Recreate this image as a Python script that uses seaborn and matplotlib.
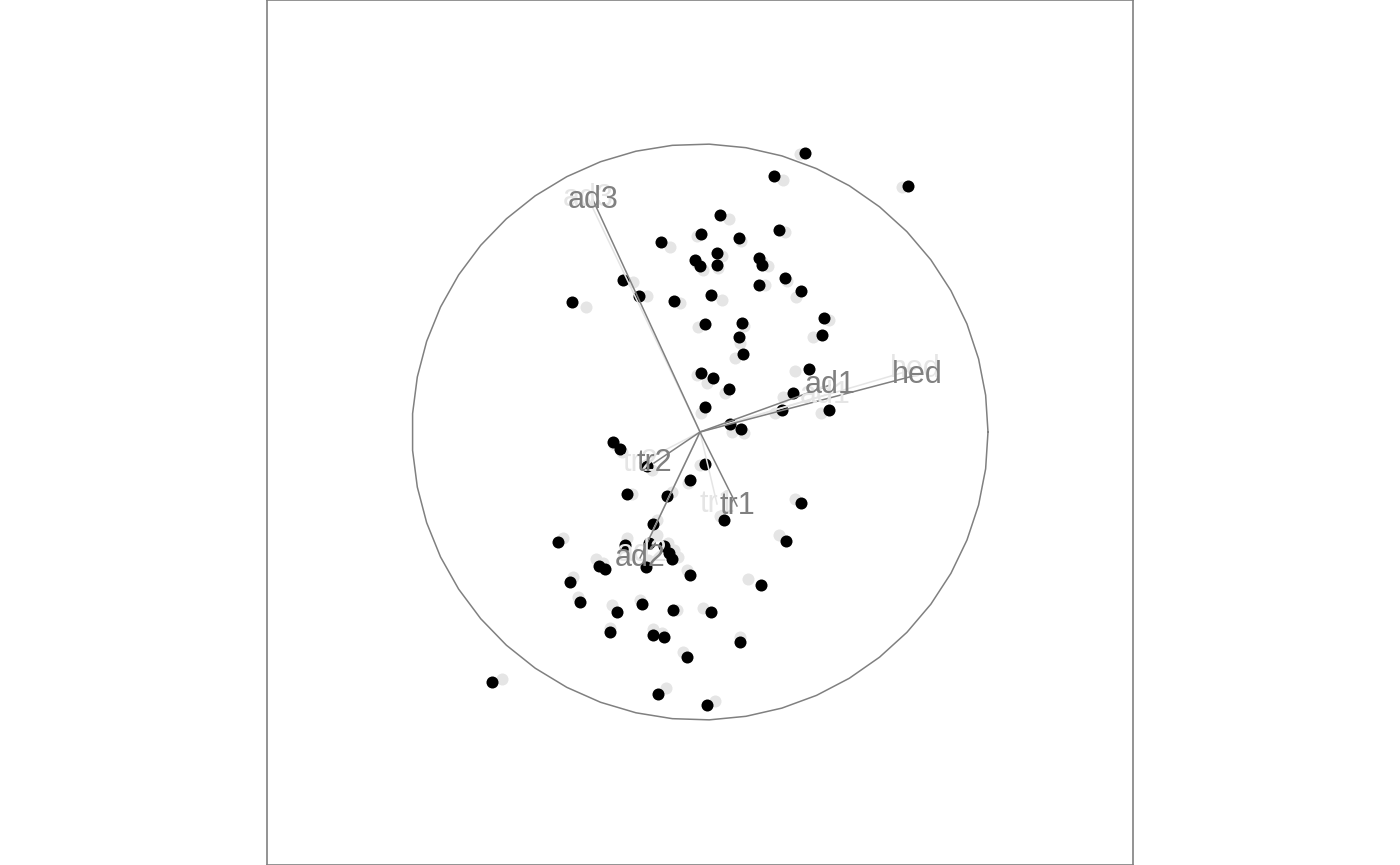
import numpy as np
import pandas as pd
import seaborn as sns
import matplotlib
matplotlib.use("Agg")
import matplotlib.pyplot as plt

# projected points, current frame
proj_x = [1.05, 0.74, 2.08, 0.20, 0.01, 0.39, -0.39, 0.79, 0.17, -0.05,
          0.00, 0.17, 0.59, 0.62, -0.77, 0.85, 0.59, 1.01, -0.61, 0.11,
          -0.26, -1.28, 1.24, 0.05, 0.42, 1.22, 0.39, 0.43, 1.09, 0.01,
          0.13, 0.29, 0.93, 0.82, 1.29, 0.05, 0.30, 0.41, -0.87, -0.80,
          -0.53, 0.05, -0.10, -0.73, -0.33, 1.01, 0.24, -0.47, -1.42, -0.75,
          -0.51, -0.36, -0.31, -0.28, 0.86, -1.01, -0.95, -0.54, -0.10, -1.30,
          0.61, -1.20, -0.58, -0.83, -0.27, 0.11, -0.90, -0.47, -0.36, 0.40,
          -0.13, -2.08, -0.42, 0.07]
proj_y = [2.79, 2.56, 2.46, 2.17, 1.98, 1.94, 1.90, 2.02, 1.79, 1.72,
          1.66, 1.67, 1.74, 1.67, 1.52, 1.54, 1.47, 1.41, 1.36, 1.37,
          1.31, 1.30, 1.14, 1.08, 1.09, 0.97, 0.95, 0.78, 0.63, 0.59,
          0.54, 0.43, 0.39, 0.22, 0.22, 0.25, 0.08, 0.03, -0.10, -0.17,
          -0.34, -0.32, -0.48, -0.62, -0.64, -0.71, -0.88, -0.92, -1.10, -1.13,
          -1.11, -1.14, -1.21, -1.27, -1.09, -1.34, -1.37, -1.35, -1.43, -1.50,
          -1.53, -1.70, -1.72, -1.80, -1.78, -1.80, -2.00, -2.03, -2.05, -2.10,
          -2.25, -2.50, -2.62, -2.73]

# previous frame (light grey ghosts)
prev_x = [1.00, 0.83, 2.02, 0.29, -0.03, 0.41, -0.30, 0.85, 0.22, -0.03,
          0.03, 0.18, 0.62, 0.68, -0.67, 0.87, 0.65, 0.96, -0.53, 0.22,
          -0.20, -1.14, 1.29, -0.02, 0.44, 1.13, 0.40, 0.35, 0.95, -0.03,
          0.07, 0.25, 0.83, 0.75, 1.21, 0.01, 0.32, 0.44, -0.86, -0.78,
          -0.48, 0.00, -0.12, -0.68, -0.28, 0.95, 0.20, -0.43, -1.37, -0.73,
          -0.43, -0.32, -0.26, -0.22, 0.79, -1.04, -0.97, -0.52, -0.13, -1.27,
          0.48, -1.22, -0.60, -0.88, -0.23, 0.03, -0.90, -0.47, -0.38, 0.40,
          -0.17, -1.98, -0.34, 0.15]
prev_y = [2.78, 2.52, 2.45, 2.13, 1.96, 1.91, 1.85, 2.00, 1.76, 1.69,
          1.62, 1.64, 1.70, 1.66, 1.50, 1.51, 1.47, 1.35, 1.36, 1.32,
          1.29, 1.25, 1.12, 1.05, 1.06, 0.95, 0.89, 0.74, 0.61, 0.57,
          0.49, 0.39, 0.35, 0.19, 0.19, 0.19, 0.00, -0.01, -0.12, -0.20,
          -0.38, -0.33, -0.51, -0.62, -0.60, -0.67, -0.84, -0.88, -1.06, -1.06,
          -1.03, -1.11, -1.18, -1.25, -1.03, -1.27, -1.31, -1.28, -1.38, -1.45,
          -1.47, -1.65, -1.68, -1.73, -1.78, -1.76, -1.96, -1.97, -2.01, -2.05,
          -2.20, -2.47, -2.56, -2.69]

# variable axes
var_names = ["hed", "ad1", "ad2", "ad3", "tr1", "tr2"]
axis_x = [2.17, 1.30, -0.60, -1.07, 0.37, -0.46]
axis_y = [0.57, 0.47, -1.26, 2.32, -0.74, -0.31]
prev_axis_x = [2.15, 1.25, -0.58, -1.12, 0.17, -0.60]
prev_axis_y = [0.63, 0.37, -1.21, 2.34, -0.72, -0.31]

circle_r = 2.88

plt.rcParams['font.family'] = ['Liberation Sans', 'DejaVu Sans']
fig = plt.figure(figsize=(14, 8.65), dpi=100)
ax = fig.add_axes([267 / 1400, 0, 866 / 1400, 1])

grey = "#808080"
ghost = "#e5e5e5"

# ghost axes
for name, x, y in zip(var_names, prev_axis_x, prev_axis_y):
    seg = pd.DataFrame({"x": [0, x], "y": [0, y]})
    sns.lineplot(data=seg, x="x", y="y", sort=False, estimator=None,
                 color=ghost, lw=1.1, ax=ax)
    ax.text(x, y, name, color=ghost, fontsize=22, ha="center", va="center")

# circle
t = np.linspace(0, 2 * np.pi, 50)
circ = pd.DataFrame({"x": circle_r * np.cos(t), "y": circle_r * np.sin(t)})
sns.lineplot(data=circ, x="x", y="y", sort=False, estimator=None,
             color=grey, lw=1.1, ax=ax)

# current axes
for name, x, y in zip(var_names, axis_x, axis_y):
    seg = pd.DataFrame({"x": [0, x], "y": [0, y]})
    sns.lineplot(data=seg, x="x", y="y", sort=False, estimator=None,
                 color=grey, lw=1.1, ax=ax)
    ax.text(x, y, name, color=grey, fontsize=22, ha="center", va="center")

prev_df = pd.DataFrame({"x": prev_x, "y": prev_y})
cur_df = pd.DataFrame({"x": proj_x, "y": proj_y})
sns.scatterplot(data=prev_df, x="x", y="y", color=ghost, s=75, linewidth=0, ax=ax)
sns.scatterplot(data=cur_df, x="x", y="y", color="black", s=75, linewidth=0, ax=ax)

ax.set_xlim(-4.33, 4.33)
ax.set_ylim(-4.33, 4.32)
ax.set_xticks([])
ax.set_yticks([])
ax.set_xlabel("")
ax.set_ylabel("")
for sp in ax.spines.values():
    sp.set_color(grey)
    sp.set_linewidth(1.2)

fig.savefig("out.png", dpi=100)
